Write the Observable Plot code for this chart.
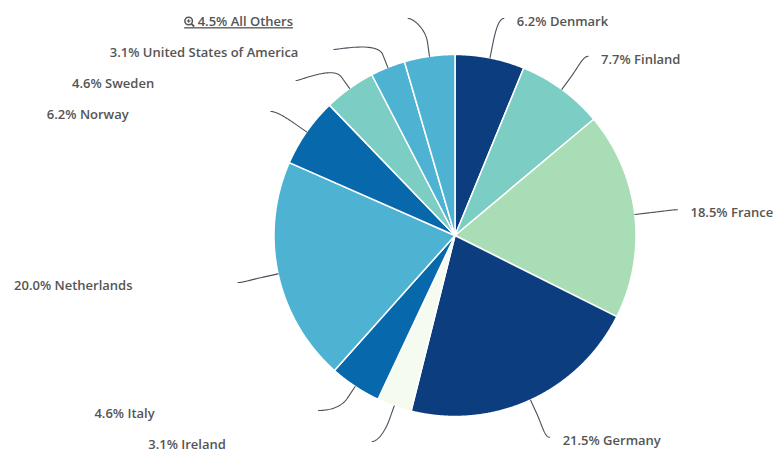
<!DOCTYPE html>
<html><head><meta charset="utf-8">
<script src="https://cdn.jsdelivr.net/npm/d3@7"></script>
<script src="https://cdn.jsdelivr.net/npm/@observablehq/plot@0.6"></script>
<style>body{margin:0;background:#fff}</style>
</head><body><div id="chart"></div>
<script>
// ---- data ----
const categories = ["Denmark","Finland","France","Germany","Ireland","Italy","Netherlands","Norway","Sweden","United States of America","All Others"];
const shares = [6.2, 7.7, 18.5, 21.5, 3.1, 4.6, 20.0, 6.2, 4.6, 3.1, 4.5];
const colors = ["#0b3d7f","#7ccdc4","#a8ddb5","#0b3d7f","#f5fbef","#0868ac","#4eb3d3","#0868ac","#7ccdc4","#4eb3d3","#4eb3d3"];

// ---- layout ----
const W = 774, H = 453, cx = 454.5, cy = 235, R = 181, labelR = 222;
const GAP = 31, MINY = 18, MAXY = 441;
const TEXT = "#555555", LINE = "#4a505c";

const rows = categories.map((name, i) => ({name, value: shares[i]}));
const arcs = d3.pie().sort(null).value(d => d.value)(rows);
const pt = (a, r) => [cx + r * Math.sin(a), cy - r * Math.cos(a)];

// slice polygons
const slicePts = [];
for (const a of arcs) {
  const n = Math.max(2, Math.ceil((a.endAngle - a.startAngle) / 0.005));
  slicePts.push({name: a.data.name, x: cx, y: cy});
  for (let k = 0; k <= n; k++) {
    const t = a.startAngle + (a.endAngle - a.startAngle) * k / n;
    const [x, y] = pt(t, R);
    slicePts.push({name: a.data.name, x, y});
  }
  slicePts.push({name: a.data.name, x: cx, y: cy});
}

// label placement: natural y on label circle, then spread to avoid overlap
const items = arcs.map(a => {
  const mid = (a.startAngle + a.endAngle) / 2;
  return {a, mid, right: Math.sin(mid) >= 0, y0: pt(mid, labelR)[1]};
});
function distribute(list) {
  list.sort((p, q) => p.y0 - q.y0);
  list.forEach((it, i) => { it.y = i === 0 ? Math.max(it.y0, MINY) : Math.max(it.y0, list[i - 1].y + GAP); });
  if (list.length && list[list.length - 1].y > MAXY) {
    list[list.length - 1].y = MAXY;
    for (let i = list.length - 2; i >= 0; i--) list[i].y = Math.min(list[i].y, list[i + 1].y - GAP);
  }
}
distribute(items.filter(d => d.right));
distribute(items.filter(d => !d.right));

const connPts = [], labels = [];
let iconPos = null;
for (const it of items) {
  const {a, mid, right} = it;
  const dy = it.y - cy;
  const L = [cx + (right ? 1 : -1) * Math.sqrt(Math.max(0, labelR * labelR - dy * dy)) + (right ? 2 : 0), it.y];
  const T = pt(mid, R), B = pt(mid, R + 14);
  const c1 = [L[0] + (right ? -5 : 5), L[1]];
  const c2 = [2 * B[0] - T[0], 2 * B[1] - T[1]];
  for (let k = 0; k <= 30; k++) {
    const t = k / 30, u = 1 - t;
    const x = u*u*u*L[0] + 3*u*u*t*c1[0] + 3*u*t*t*c2[0] + t*t*t*B[0];
    const y = u*u*u*L[1] + 3*u*u*t*c1[1] + 3*u*t*t*c2[1] + t*t*t*B[1];
    connPts.push({name: a.data.name, x, y});
  }
  connPts.push({name: a.data.name, x: T[0], y: T[1]});
  const isOthers = a.data.name === "All Others";
  const tx = right ? L[0] + 13 : L[0] - 224;
  const txt = a.data.value.toFixed(1) + "% " + a.data.name;
  labels.push({x: tx, y: L[1] + 3.5, text: isOthers ? "\u00a0\u00a0\u00a0\u00a0" + txt : txt});
  if (isOthers) iconPos = {x: tx + 4.5, y: L[1] + 2.5};
}

const plot = Plot.plot({
  width: W, height: H, margin: 0,
  x: {domain: [0, W], range: [0, W], axis: null},
  y: {domain: [0, H], range: [0, H], axis: null},
  color: {domain: categories, range: colors},
  marks: [
    Plot.line(slicePts, {x: "x", y: "y", z: "name", fill: "name", stroke: "white", strokeWidth: 1.5, curve: "linear", strokeLinejoin: "round"}),
    Plot.line(connPts, {x: "x", y: "y", z: "name", stroke: LINE, strokeWidth: 1.1, curve: "linear"}),
    Plot.text(labels, {x: "x", y: "y", text: "text", textAnchor: "start", fill: TEXT, fontSize: 13, fontWeight: 600, fontFamily: "Open Sans"}),
    // zoom-in icon of the drill-down label
    Plot.dot([iconPos], {x: "x", y: "y", r: 3.8, stroke: TEXT, strokeWidth: 1.5, fill: "none"}),
    Plot.link([iconPos], {x1: d => d.x - 1.8, y1: "y", x2: d => d.x + 1.8, y2: "y", stroke: TEXT, strokeWidth: 1.2}),
    Plot.link([iconPos], {x1: "x", y1: d => d.y - 1.8, x2: "x", y2: d => d.y + 1.8, stroke: TEXT, strokeWidth: 1.2}),
    Plot.link([iconPos], {x1: d => d.x + 2.8, y1: d => d.y + 2.8, x2: d => d.x + 5.5, y2: d => d.y + 5.5, stroke: TEXT, strokeWidth: 1.8})
  ]
});
d3.select(plot).selectAll("text").filter(function() { return this.textContent.includes("All Others"); })
  .style("text-decoration", "underline");
document.getElementById("chart").appendChild(plot);
</script>
</body></html>
